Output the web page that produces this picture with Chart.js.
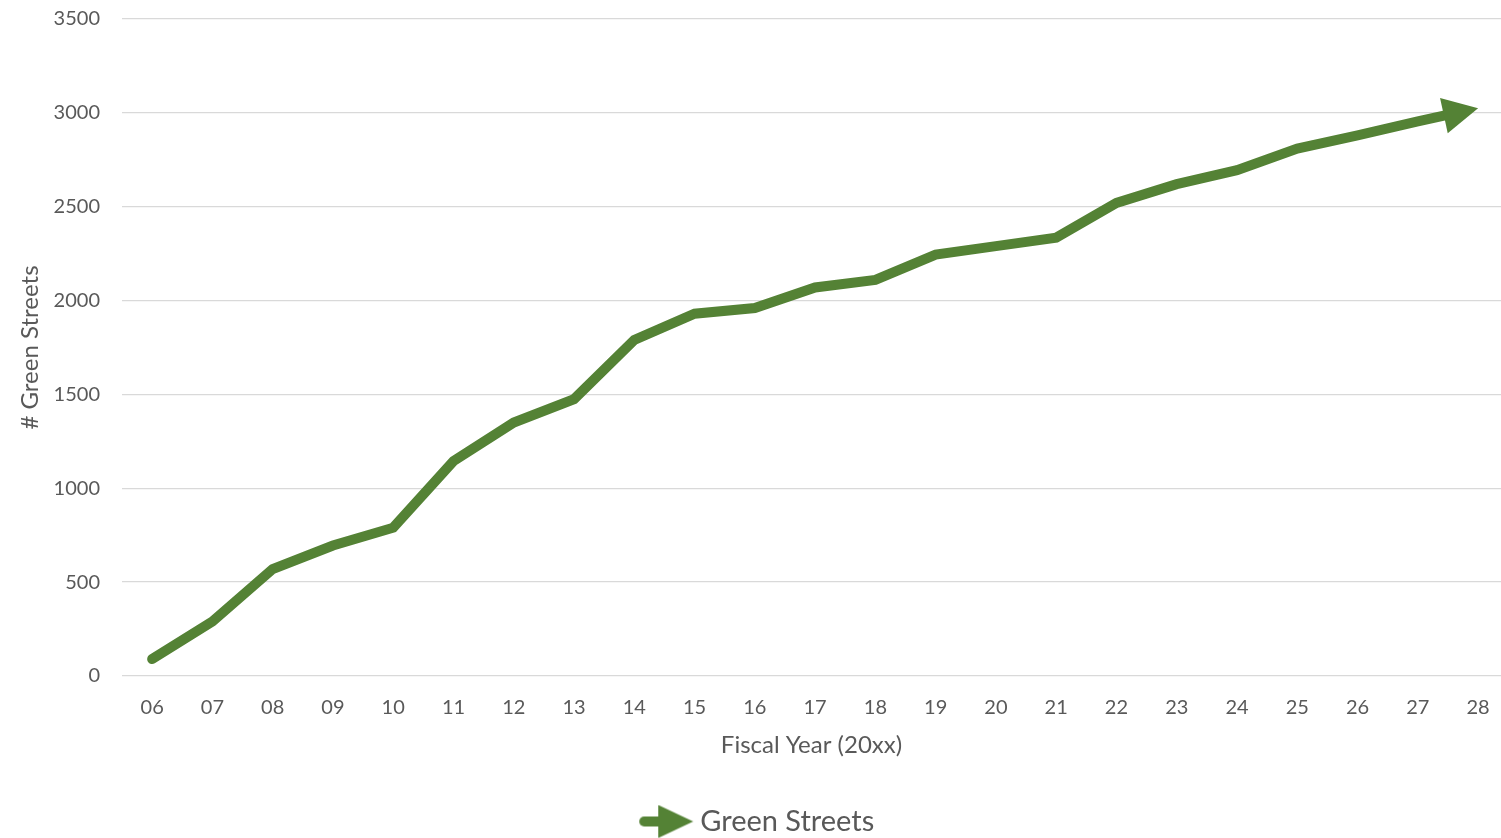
<!DOCTYPE html>
<html>
<head>
<meta charset="utf-8">
<script src="https://cdn.jsdelivr.net/npm/chart.js@4.4.1/dist/chart.umd.min.js"></script>
<style>
  html, body { margin: 0; padding: 0; background: #fff; }
  #wrap { width: 1501px; height: 838px; }
</style>
</head>
<body>
<div id="wrap"><canvas id="chart"></canvas></div>
<script>
// Data
const years = ['06', '07', '08', '09', '10', '11', '12', '13', '14', '15', '16', '17',
               '18', '19', '20', '21', '22', '23', '24', '25', '26', '27', '28'];
const greenStreets = [90, 290, 570, 695, 790, 1145, 1350, 1475, 1790, 1930, 1960, 2070,
                      2110, 2245, 2290, 2335, 2520, 2620, 2695, 2810, 2880, 2955, 3025];
const yTicks = { min: 0, max: 3500, step: 500 };
const seriesName = 'Green Streets';

const lineColor = '#548235';
const textColor = '#595959';
const gridColor = '#d9d9d9';
const fontFamily = 'Lato, "Open Sans", sans-serif';

// arrow head size at the end of the line
const HEAD_LEN = 35;
const HEAD_W = 36;

// legend marker: short line + arrow head, drawn in the right part of the canvas
function makeLegendIcon() {
    const c = document.createElement('canvas');
    c.width = 76;
    c.height = 36;
    const g = c.getContext('2d');
    const o = 20;
    g.strokeStyle = lineColor;
    g.lineWidth = 10;
    g.lineCap = 'round';
    g.beginPath();
    g.moveTo(o + 6, 18);
    g.lineTo(o + 30, 18);
    g.stroke();
    g.fillStyle = lineColor;
    g.beginPath();
    g.moveTo(o + 55, 18);
    g.lineTo(o + 20, 1.5);
    g.lineTo(o + 20, 34.5);
    g.closePath();
    g.fill();
    return c;
}

function lastSegment(meta) {
    const pts = meta.data;
    const tip = pts[pts.length - 1];
    const prev = pts[pts.length - 2];
    return { tip, ang: Math.atan2(tip.y - prev.y, tip.x - prev.x) };
}

// Clips the line short of its end and puts an arrow head on it
const arrowPlugin = {
    id: 'arrowEnd',
    beforeDatasetDraw(chart, args) {
        const { tip, ang } = lastSegment(args.meta);
        const ctx = chart.ctx;
        const dx = Math.cos(ang), dy = Math.sin(ang);
        const bx = tip.x - dx * HEAD_LEN * 0.6;
        const by = tip.y - dy * HEAD_LEN * 0.6;
        const nx = -dy, ny = dx, B = 5000;
        ctx.save();
        ctx.beginPath();
        ctx.moveTo(bx + nx * B, by + ny * B);
        ctx.lineTo(bx - nx * B, by - ny * B);
        ctx.lineTo(bx - nx * B - dx * B, by - ny * B - dy * B);
        ctx.lineTo(bx + nx * B - dx * B, by + ny * B - dy * B);
        ctx.closePath();
        ctx.clip();
    },
    afterDatasetDraw(chart, args) {
        const ctx = chart.ctx;
        ctx.restore();
        const { tip, ang } = lastSegment(args.meta);
        ctx.save();
        ctx.translate(tip.x, tip.y);
        ctx.rotate(ang);
        ctx.fillStyle = lineColor;
        ctx.beginPath();
        ctx.moveTo(0, 0);
        ctx.lineTo(-HEAD_LEN, -HEAD_W / 2);
        ctx.lineTo(-HEAD_LEN, HEAD_W / 2);
        ctx.closePath();
        ctx.fill();
        ctx.restore();
    }
};

const legendIcon = makeLegendIcon();

new Chart(document.getElementById('chart'), {
    type: 'line',
    data: {
        datasets: [{
            label: seriesName,
            data: greenStreets.map((v, i) => ({ x: i, y: v })),
            borderColor: lineColor,
            backgroundColor: lineColor,
            borderWidth: 10,
            borderCapStyle: 'round',
            borderJoinStyle: 'miter',
            pointRadius: 0,
            tension: 0,
            fill: false
        }]
    },
    options: {
        responsive: true,
        maintainAspectRatio: false,
        animation: false,
        layout: { padding: { top: 19, right: 0, bottom: -8, left: 0 } },
        scales: {
            x: {
                type: 'linear',
                min: -0.5,
                max: years.length - 1 + 0.38,
                grid: { display: false, drawTicks: false },
                border: { display: false },
                afterFit(scale) {
                    scale.height = 129;
                    scale.paddingLeft = 0;
                    scale.paddingRight = 0;
                },
                ticks: {
                    stepSize: 1,
                    includeBounds: false,
                    autoSkip: false,
                    maxRotation: 0,
                    padding: 20,
                    color: textColor,
                    font: { family: fontFamily, size: 20 },
                    callback: v => Number.isInteger(v) ? (years[v] ?? '') : ''
                },
                title: {
                    display: true,
                    text: 'Fiscal Year (20xx)',
                    color: textColor,
                    font: { family: fontFamily, size: 24 },
                    padding: { top: 0, bottom: 45 }
                }
            },
            y: {
                min: yTicks.min,
                max: yTicks.max,
                grid: { color: gridColor, lineWidth: 1.3, drawTicks: false },
                border: { display: false },
                afterFit(scale) {
                    scale.width = 122;
                    scale.paddingTop = 0;
                    scale.paddingBottom = 0;
                },
                ticks: {
                    stepSize: yTicks.step,
                    padding: 22,
                    color: textColor,
                    font: { family: fontFamily, size: 20 },
                    callback: v => String(v)
                },
                title: {
                    display: true,
                    text: '# Green Streets',
                    color: textColor,
                    font: { family: fontFamily, size: 24 },
                    padding: { top: 16, bottom: 0 }
                }
            }
        },
        plugins: {
            tooltip: { enabled: false },
            legend: {
                position: 'bottom',
                labels: {
                    usePointStyle: true,
                    pointStyleWidth: 59,
                    boxHeight: 26,
                    padding: 2,
                    color: textColor,
                    font: { family: fontFamily, size: 29 },
                    generateLabels: () => [{
                        text: seriesName,
                        pointStyle: legendIcon,
                        fillStyle: lineColor,
                        strokeStyle: lineColor,
                        lineWidth: 0,
                        hidden: false,
                        datasetIndex: 0,
                        fontColor: textColor
                    }]
                }
            }
        }
    },
    plugins: [arrowPlugin]
});
</script>
</body>
</html>
